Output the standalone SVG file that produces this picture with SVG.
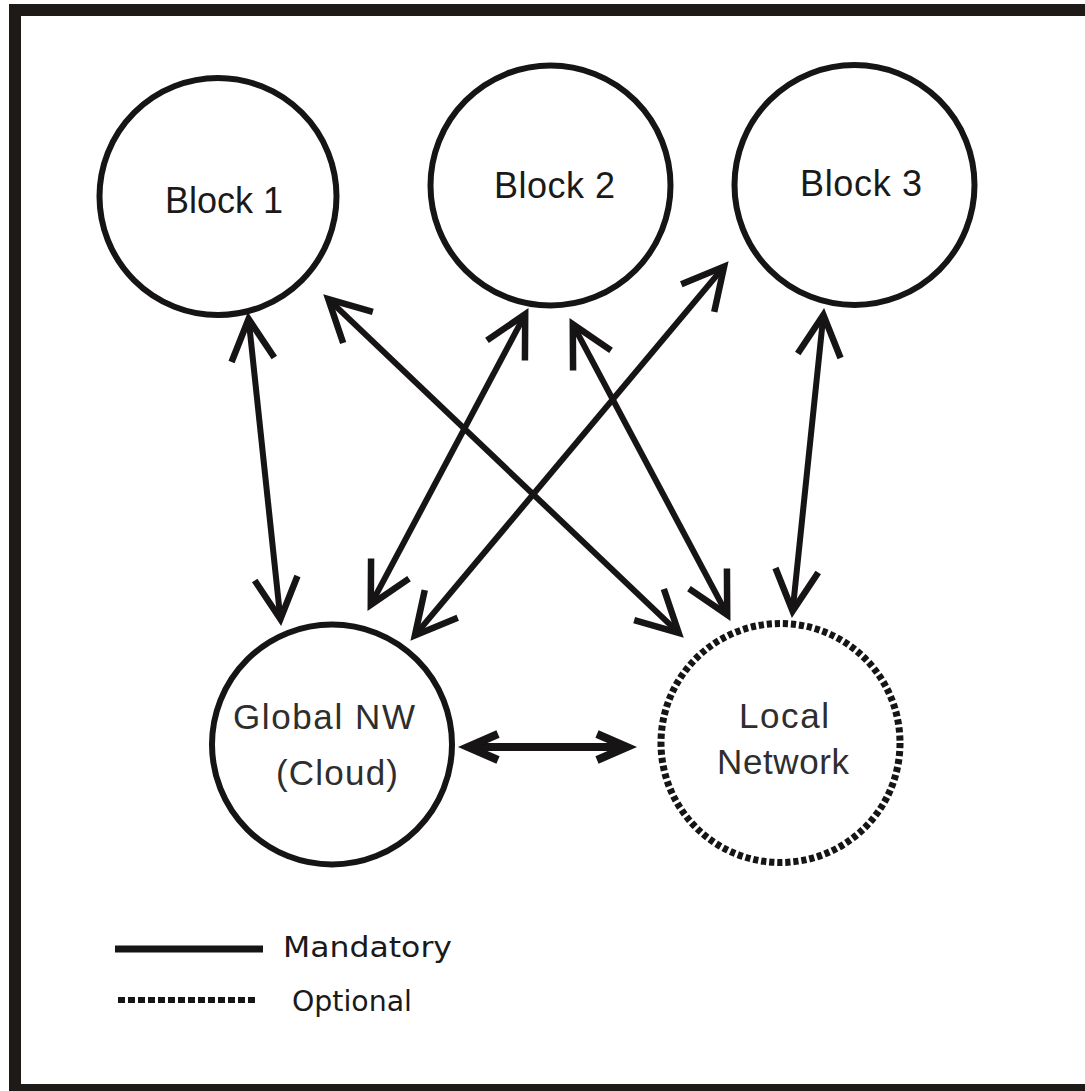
<svg xmlns="http://www.w3.org/2000/svg" width="1085" height="1091" viewBox="0 0 1085 1091">
<style>
.node{fill:#fff;stroke:#161414;stroke-width:6}
.dotted{fill:#fff;stroke:#161414;stroke-width:7;stroke-dasharray:5.2 2.875}
.lbl{font-family:"Liberation Sans",Arial,sans-serif;font-size:36px;fill:#1a1a1a;text-anchor:middle}
.thin{fill:#2e2e2e;font-size:35px}
.leg{font-family:"DejaVu Sans","Liberation Sans",sans-serif;font-size:28px;fill:#1a1a1a}
.conn{fill:none;stroke:#161414;stroke-width:6;marker-start:url(#ah);marker-end:url(#ah)}
.conn2{fill:none;stroke:#161414;stroke-width:8;marker-start:url(#ah2);marker-end:url(#ah2)}
</style>
<defs>
<marker id="ah" viewBox="-55 -30 70 60" markerWidth="70" markerHeight="60" refX="0" refY="0" orient="auto-start-reverse" markerUnits="userSpaceOnUse">
<path d="M-41,-21.5 L0,0 L-41,21.5" fill="none" stroke="#161414" stroke-width="6.5" stroke-linejoin="miter" stroke-miterlimit="6"/>
</marker>
<marker id="ah2" viewBox="-50 -30 70 60" markerWidth="70" markerHeight="60" refX="0" refY="0" orient="auto-start-reverse" markerUnits="userSpaceOnUse">
<path d="M-30,-13 L0,0 L-30,13" fill="none" stroke="#161414" stroke-width="8" stroke-linejoin="miter" stroke-miterlimit="6"/>
</marker>
</defs>
<rect width="1085" height="1091" fill="#fff"/>
<rect id="frame" x="15" y="10" width="1100" height="1080" fill="none" stroke="#1e1a18" stroke-width="12"/>

<g id="connectors">
<line class="conn" x1="248.6" y1="319" x2="280.4" y2="619"/>
<line class="conn" x1="328.3" y1="299.1" x2="678.7" y2="632.9"/>
<line class="conn" x1="525.2" y1="314.3" x2="370.8" y2="604.7"/>
<line class="conn" x1="724.1" y1="266.6" x2="414.9" y2="635.4"/>
<line class="conn" x1="572.8" y1="324.3" x2="727.2" y2="614.7"/>
<line class="conn" x1="823.4" y1="315" x2="792.6" y2="611"/>
<line class="conn2" x1="468" y1="747" x2="627" y2="747"/>
</g>

<g id="block1">
<circle class="node" cx="218" cy="196.5" r="118.5"/>
<text class="lbl" x="224" y="213">Block 1</text>
</g>
<g id="block2">
<circle class="node" cx="550.5" cy="185.5" r="120"/>
<text class="lbl" x="554.5" y="198" textLength="121" lengthAdjust="spacing">Block 2</text>
</g>
<g id="block3">
<circle class="node" cx="854.5" cy="185" r="120"/>
<text class="lbl" x="861" y="196" textLength="122" lengthAdjust="spacing">Block 3</text>
</g>
<g id="global">
<circle class="node" cx="332" cy="744.5" r="120"/>
<text class="lbl thin" x="324" y="729" textLength="182" lengthAdjust="spacing">Global NW</text>
<text class="lbl thin" x="337" y="785" textLength="122" lengthAdjust="spacing">(Cloud)</text>
</g>
<g id="local">
<circle class="dotted" cx="780.5" cy="743" r="119.5"/>
<text class="lbl thin" x="784" y="728" textLength="90" lengthAdjust="spacing">Local</text>
<text class="lbl thin" x="783" y="774" textLength="132" lengthAdjust="spacing">Network</text>
</g>

<g id="legend">
<line x1="115" y1="949" x2="263" y2="949" stroke="#161414" stroke-width="7"/>
<text class="leg" x="283" y="957" textLength="169" lengthAdjust="spacingAndGlyphs">Mandatory</text>
<line x1="118" y1="1000" x2="257" y2="1000" stroke="#161414" stroke-width="6" stroke-dasharray="7 3"/>
<text class="leg" x="292" y="1011" textLength="120" lengthAdjust="spacingAndGlyphs">Optional</text>
</g>
</svg>
